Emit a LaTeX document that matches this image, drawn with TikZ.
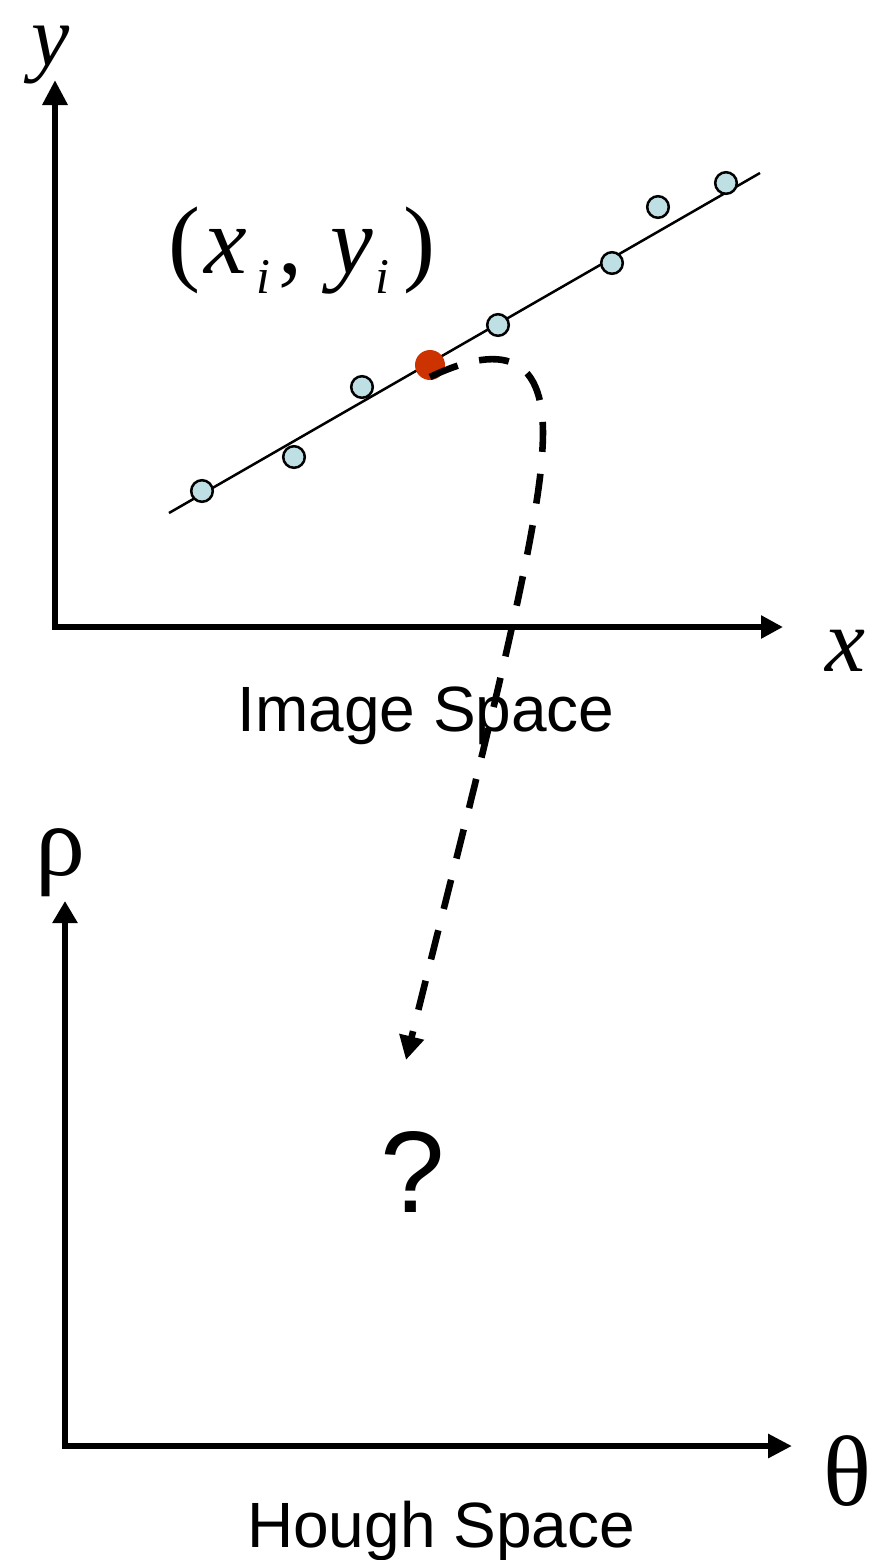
\documentclass[tikz,border=0pt]{standalone}
\usepackage{fontspec}
\setmainfont{Liberation Serif}
\newfontfamily\sansf{Liberation Sans}
\usetikzlibrary{arrows.meta}
\definecolor{ptfill}{RGB}{190,224,228}
\definecolor{reddot}{RGB}{204,51,0}
\begin{document}
\begin{tikzpicture}[x=0.5pt,y=-0.5pt,
  axis/.style={line width=3.2pt, line join=miter},
  fitline/.style={line width=1.25pt},
  datapt/.style={circle, draw, line width=1.25pt, fill=ptfill, minimum size=10.8pt, inner sep=0pt},
  selpt/.style={circle, fill=reddot, minimum size=15pt, inner sep=0pt},
  maplink/.style={line width=3.3pt, dash pattern=on 15pt off 11pt, -{Triangle[length=12pt,width=12pt]}},
  mathlbl/.style={font=\fontsize{45}{45}\selectfont\itshape, inner sep=0pt, anchor=base, text height=20pt, text depth=9pt},
  greeklbl/.style={font=\fontsize{50}{50}\selectfont, inner sep=0pt, anchor=base},
  caption/.style={font=\sansf\fontsize{32}{32}\selectfont, inner sep=0pt, anchor=base},
]
\useasboundingbox (0,0) rectangle (894,1560);

% image space axes
\coordinate (ytip) at (55,80);
\coordinate (xtip) at (783,627);
\draw[axis, {Triangle[length=12.5pt,width=12pt]}-{Triangle[length=11pt,width=11pt]}] (ytip) |- (xtip);

% hough space axes
\coordinate (rhotip) at (65,901);
\coordinate (thetatip) at (792,1446);
\draw[axis, {Triangle[length=11pt,width=12pt]}-{Triangle[length=12pt,width=11.5pt]}] (rhotip) |- (thetatip);

% fitted line
\coordinate (lineA) at (169,513);
\coordinate (lineB) at (760,173);
\draw[fitline] (lineA) -- (lineB);

% data points
\node[datapt] (p1) at (202,491) {};
\node[datapt] (p2) at (294,457) {};
\node[datapt] (p3) at (362,387) {};
\node[datapt] (p4) at (498,325) {};
\node[datapt] (p5) at (612,263) {};
\node[datapt] (p6) at (658,207) {};
\node[datapt] (p7) at (726,183) {};
\node[selpt] (sel) at (430,365) {};

% dashed mapping
\coordinate (linkstart) at (430,377);
\coordinate (linkend) at (406,1060);
\draw[maplink] (linkstart) .. controls (508,340) and (550,358) .. (542,455)
  .. controls (536,560) and (450,880) .. (linkend);

% labels
\node[mathlbl, font=\fontsize{43}{43}\selectfont\itshape] (ylbl) at (51,65) {y};
\node[mathlbl] (xlbl) at (845,671) {x};
\node[greeklbl] (rholbl) at (60,875) {ρ};
\node[greeklbl] (thetalbl) at (847,1505) {θ};
\node[anchor=base west, inner sep=0pt, font=\fontsize{48}{48}\selectfont] (ptlbl) at (168,273)
  {(\kern2pt\textit{x}\kern5pt\raisebox{-10pt}{\fontsize{25}{25}\selectfont\textit{i}}\kern4pt,\kern14pt\textit{y}\kern1pt\raisebox{-10pt}{\fontsize{25}{25}\selectfont\textit{i}}\kern7pt)};
\node[caption] (imgcap) at (426,731) {Image Space};
\node[caption] (houghcap) at (441,1547) {Hough Space};
\node[font=\sansf\fontsize{58}{58}\selectfont, inner sep=0pt, anchor=base] (qmark) at (413,1212) {?};
\end{tikzpicture}
\end{document}
